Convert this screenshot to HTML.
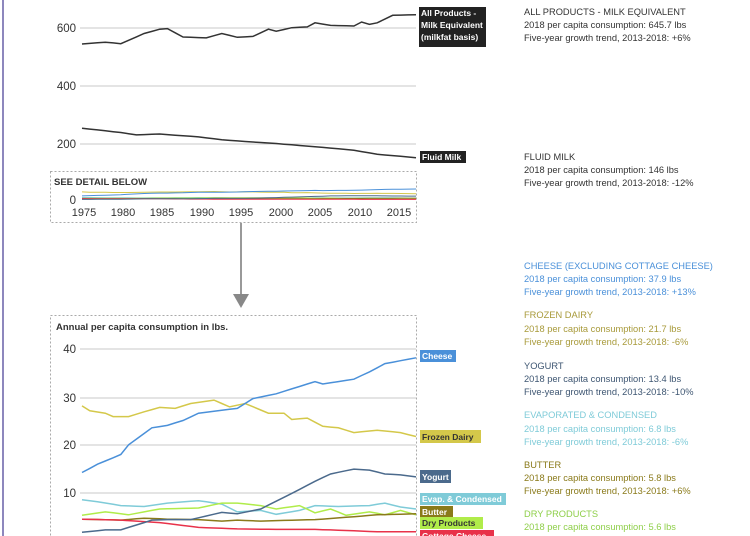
<!DOCTYPE html><html><head><meta charset="utf-8"><style>
body{margin:0;background:#fff;width:750px;height:536px;overflow:hidden;font-family:"Liberation Sans",sans-serif}
svg{position:absolute;left:0;top:0}
</style></head><body>
<svg id="s" width="750" height="536" xmlns="http://www.w3.org/2000/svg" font-family="Liberation Sans, sans-serif">
<line x1="3" y1="0" x2="3" y2="536" stroke="#8d87bd" stroke-width="2"/>
<g stroke="#c8c8c8" stroke-width="1">
<line x1="80" y1="28" x2="416" y2="28"/><line x1="80" y1="86" x2="416" y2="86"/><line x1="80" y1="144" x2="416" y2="144"/>
<line x1="80" y1="349" x2="416" y2="349"/><line x1="80" y1="398" x2="416" y2="398"/><line x1="80" y1="445" x2="416" y2="445"/><line x1="80" y1="493" x2="416" y2="493"/>
</g>
<g font-size="11.5" fill="#333" text-anchor="end">
<text x="76" y="32">600</text><text x="76" y="90">400</text><text x="76" y="148">200</text><text x="76" y="204">0</text>
<text x="76" y="353">40</text><text x="76" y="402">30</text><text x="76" y="449">20</text><text x="76" y="497">10</text>
</g>
<rect x="50.5" y="171.5" width="366" height="51" fill="none" stroke="#aaa" stroke-dasharray="2,2"/>
<rect x="50.5" y="315.5" width="366" height="240" fill="none" stroke="#aaa" stroke-dasharray="2,2"/>
<text x="54" y="185" font-size="9.5" fill="#333" font-weight="bold">SEE DETAIL BELOW</text>
<text x="56" y="330" font-size="9.5" fill="#333" font-weight="bold">Annual per capita consumption in lbs.</text>
<g font-size="11" fill="#333" text-anchor="middle">
<text x="84" y="216">1975</text><text x="123" y="216">1980</text><text x="162" y="216">1985</text><text x="202" y="216">1990</text><text x="241" y="216">1995</text><text x="281" y="216">2000</text><text x="320" y="216">2005</text><text x="360" y="216">2010</text><text x="399" y="216">2015</text>
</g>
<line x1="241" y1="223" x2="241" y2="296" stroke="#999" stroke-width="2"/>
<polygon points="233,294 249,294 241,308" fill="#888"/>
<g id="lines" fill="none" stroke-width="1.5"></g>
<g font-size="8.5" font-weight="bold">
<rect x="419" y="7" width="67" height="40" fill="#222"/><text fill="#fff" x="421" y="16">All Products -</text><text fill="#fff" x="421" y="28">Milk Equivalent</text><text fill="#fff" x="421" y="40">(milkfat basis)</text>
<rect x="420" y="151" width="46" height="12" fill="#222"/><text fill="#fff" x="422" y="160">Fluid Milk</text>
<rect x="420" y="350" width="36" height="12" fill="#4a90d9"/><text fill="#fff" x="422" y="359">Cheese</text>
<rect x="420" y="430" width="61" height="13" fill="#d4c84a"/><text fill="#333" x="422" y="440">Frozen Dairy</text>
<rect x="420" y="470" width="31" height="13" fill="#4b6a8c"/><text fill="#fff" x="422" y="480">Yogurt</text>
<rect x="420" y="493" width="86" height="12" fill="#7fcbd8"/><text fill="#fff" x="422" y="502">Evap. &amp; Condensed</text>
<rect x="420" y="506" width="33" height="12" fill="#8a7a1a"/><text fill="#fff" x="422" y="515">Butter</text>
<rect x="420" y="517" width="63" height="12" fill="#b0ec4a"/><text fill="#333" x="422" y="526">Dry Products</text>
<rect x="420" y="530" width="74" height="12" fill="#e8324a"/><text fill="#fff" x="422" y="539">Cottage Cheese</text>
</g>
<g font-size="9.3">
<text x="524" y="15" fill="#333">ALL PRODUCTS - MILK EQUIVALENT</text><text x="524" y="28" fill="#333">2018 per capita consumption: 645.7 lbs</text><text x="524" y="41" fill="#333">Five-year growth trend, 2013-2018: +6%</text>
<text x="524" y="160" fill="#333">FLUID MILK</text><text x="524" y="173" fill="#333">2018 per capita consumption: 146 lbs</text><text x="524" y="186" fill="#333">Five-year growth trend, 2013-2018: -12%</text>
<g fill="#4a90d9"><text x="524" y="269">CHEESE (EXCLUDING COTTAGE CHEESE)</text><text x="524" y="282">2018 per capita consumption: 37.9 lbs</text><text x="524" y="295">Five-year growth trend, 2013-2018: +13%</text></g>
<g fill="#a89a3a"><text x="524" y="318">FROZEN DAIRY</text><text x="524" y="332">2018 per capita consumption: 21.7 lbs</text><text x="524" y="345">Five-year growth trend, 2013-2018: -6%</text></g>
<g fill="#3e5672"><text x="524" y="369">YOGURT</text><text x="524" y="382">2018 per capita consumption: 13.4 lbs</text><text x="524" y="395">Five-year growth trend, 2013-2018: -10%</text></g>
<g fill="#7fcbd8"><text x="524" y="418">EVAPORATED &amp; CONDENSED</text><text x="524" y="432">2018 per capita consumption: 6.8 lbs</text><text x="524" y="445">Five-year growth trend, 2013-2018: -6%</text></g>
<g fill="#8a7a1a"><text x="524" y="468">BUTTER</text><text x="524" y="481">2018 per capita consumption: 5.8 lbs</text><text x="524" y="494">Five-year growth trend, 2013-2018: +6%</text></g>
<g fill="#8fcf4a"><text x="524" y="517">DRY PRODUCTS</text><text x="524" y="530">2018 per capita consumption: 5.6 lbs</text></g>
</g>
</svg>
<script>
(function(){
function interp(k){var o=[];for(var y=1975;y<=2018;y++){for(var i=0;i<k.length-1;i++){var a=k[i],b=k[i+1];if(y>=a[0]&&y<=b[0]){o.push([y,a[1]+(b[1]-a[1])*(y-a[0])/(b[0]-a[0])]);break;}}}return o;}
function X(y){return 82+(y-1975)*(334/43);}
var g=document.getElementById('lines');
function draw(k,col,fy,w){var p=interp(k).map(function(d){return X(d[0]).toFixed(1)+','+fy(d[1]).toFixed(1)}).join(' ');
var e=document.createElementNS('http://www.w3.org/2000/svg','polyline');e.setAttribute('points',p);e.setAttribute('stroke',col);if(w)e.setAttribute('stroke-width',w);g.appendChild(e);}
var fTop=function(v){return 200-v*0.2895};
var fBot=function(v){return 542-v*4.86};
var S={
all:[[1975,539],[1978,545],[1980,540],[1983,575],[1985,590],[1986,592],[1988,563],[1991,560],[1993,575],[1995,562],[1997,565],[1999,590],[2000,583],[2002,595],[2004,598],[2005,612],[2007,603],[2010,601],[2011,615],[2012,607],[2013,612],[2015,638],[2018,640]],
fl:[[1975,248],[1980,233],[1982,225],[1985,228],[1990,218],[1993,208],[1995,204],[2000,195],[2005,184],[2010,172],[2013,158],[2018,146]],
ch:[[1975,14.3],[1977,16],[1980,18],[1981,20],[1984,23.5],[1986,24],[1988,25],[1990,26.5],[1995,27.5],[1997,29.5],[2000,30.5],[2003,32],[2005,33],[2006,32.5],[2010,33.5],[2012,35],[2014,36.7],[2018,37.9]],
fr:[[1975,28],[1976,27],[1978,26.5],[1979,25.8],[1981,25.8],[1983,26.8],[1985,27.7],[1987,27.5],[1989,28.5],[1992,29.2],[1994,27.8],[1996,28.5],[1999,26.5],[2001,26.5],[2002,25.2],[2004,25.5],[2006,23.8],[2008,23.5],[2010,22.5],[2013,23],[2016,22.5],[2018,21.7]],
yo:[[1975,2],[1978,2.5],[1980,2.5],[1984,4.5],[1986,4.6],[1989,4.6],[1993,6.1],[1995,5.8],[1998,6.8],[2002,10],[2005,12.5],[2007,14],[2010,15],[2012,14.8],[2014,14],[2016,13.8],[2018,13.4]],
ev:[[1975,8.7],[1977,8.3],[1980,7.5],[1983,7.3],[1986,8],[1990,8.5],[1993,7.8],[1995,6.2],[1998,6.5],[2000,5.7],[2003,6.5],[2005,7.5],[2008,7.3],[2012,7.5],[2014,8],[2016,7.2],[2018,6.8]],
bu:[[1975,4.7],[1980,4.5],[1983,4.9],[1986,4.7],[1990,4.6],[1993,4.3],[1995,4.5],[1998,4.3],[2000,4.4],[2005,4.6],[2010,5.2],[2013,5.6],[2018,5.8]],
dr:[[1975,5.5],[1978,6.2],[1981,5.6],[1985,6.8],[1990,7],[1993,8],[1995,8],[1998,7.5],[2000,6.8],[2003,7.5],[2005,6],[2007,6.8],[2009,5.5],[2012,6.2],[2014,5.6],[2016,6.5],[2018,5.6]],
co:[[1975,4.7],[1980,4.5],[1985,4],[1990,3],[1995,2.7],[2000,2.6],[2005,2.6],[2010,2.3],[2013,2.1],[2018,2.1]]};
var C={ch:'#4a90d9',fr:'#d4c84a',yo:'#4b6a8c',ev:'#7fcbd8',bu:'#8a7a1a',dr:'#b0ec4a',co:'#e8324a'};
draw(S.all,'#333',fTop);draw(S.fl,'#333',fTop);
['fr','ev','dr','bu','co','yo','ch'].forEach(function(k){draw(S[k],C[k],fTop,1);draw(S[k],C[k],fBot);});
})();
</script>
</body></html>
